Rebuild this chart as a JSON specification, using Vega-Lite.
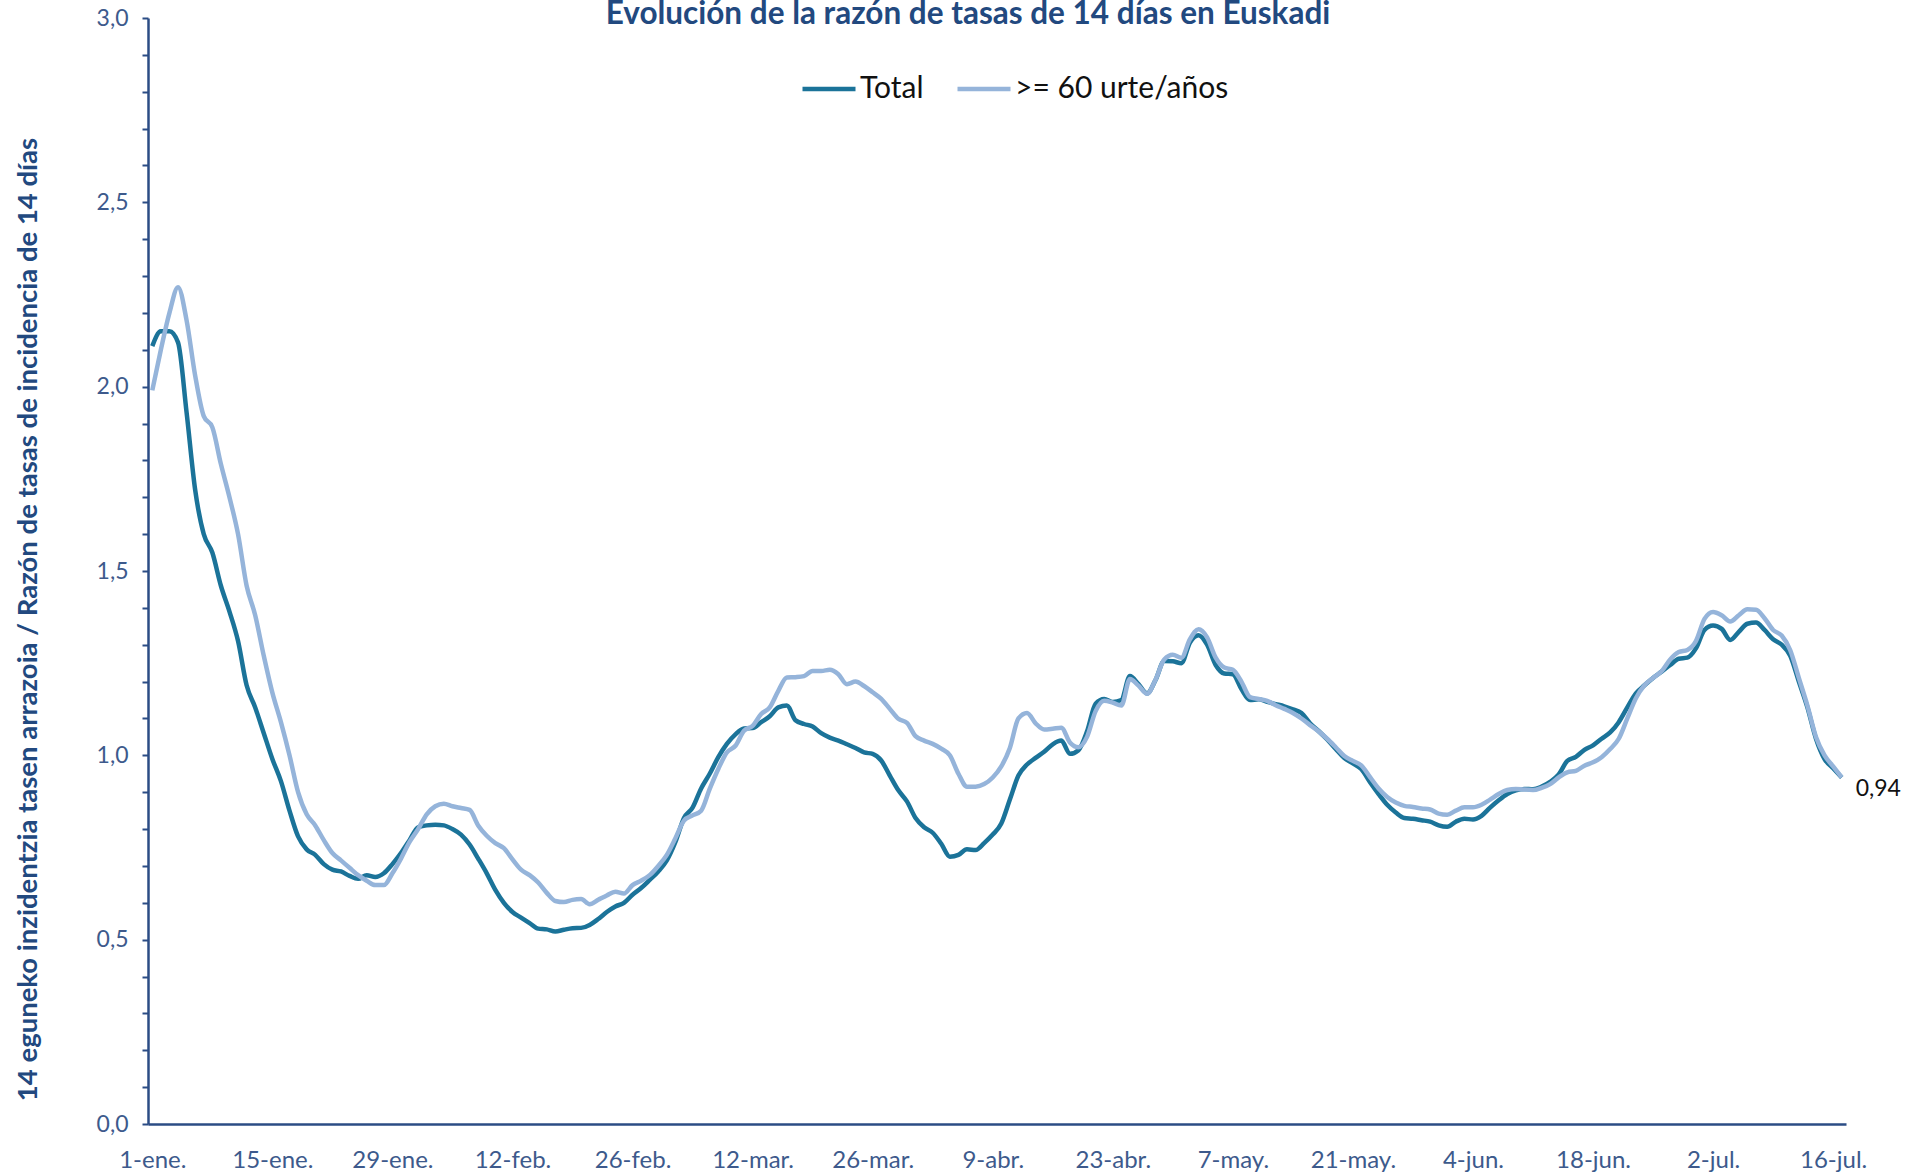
{
  "$schema": "https://vega.github.io/schema/vega-lite/v6.json",
  "width": 1698,
  "height": 1106,
  "autosize": {"type": "none"},
  "padding": {"left": 148, "top": 18, "right": 78, "bottom": 52},
  "background": "white",
  "title": {
    "text": "Evolución de la razón de tasas de 14 días en Euskadi",
    "anchor": "middle",
    "frame": "group",
    "dx": -29,
    "offset": -48,
    "baseline": "alphabetic",
    "font": "Lato",
    "fontSize": 31.5,
    "fontWeight": "bold",
    "color": "#22497F"
  },
  "data": {
    "values": [
      {"fecha": "2021-01-01", "Total": 2.11, ">= 60 urte/años": 1.99},
      {"fecha": "2021-01-02", "Total": 2.15, ">= 60 urte/años": 2.10},
      {"fecha": "2021-01-03", "Total": 2.15, ">= 60 urte/años": 2.20},
      {"fecha": "2021-01-04", "Total": 2.12, ">= 60 urte/años": 2.27},
      {"fecha": "2021-01-05", "Total": 1.93, ">= 60 urte/años": 2.18},
      {"fecha": "2021-01-06", "Total": 1.72, ">= 60 urte/años": 2.03},
      {"fecha": "2021-01-07", "Total": 1.60, ">= 60 urte/años": 1.92},
      {"fecha": "2021-01-08", "Total": 1.55, ">= 60 urte/años": 1.89},
      {"fecha": "2021-01-09", "Total": 1.46, ">= 60 urte/años": 1.79},
      {"fecha": "2021-01-10", "Total": 1.39, ">= 60 urte/años": 1.70},
      {"fecha": "2021-01-11", "Total": 1.31, ">= 60 urte/años": 1.60},
      {"fecha": "2021-01-12", "Total": 1.19, ">= 60 urte/años": 1.46},
      {"fecha": "2021-01-13", "Total": 1.13, ">= 60 urte/años": 1.38},
      {"fecha": "2021-01-14", "Total": 1.06, ">= 60 urte/años": 1.27},
      {"fecha": "2021-01-15", "Total": 0.99, ">= 60 urte/años": 1.17},
      {"fecha": "2021-01-16", "Total": 0.93, ">= 60 urte/años": 1.09},
      {"fecha": "2021-01-17", "Total": 0.85, ">= 60 urte/años": 1.00},
      {"fecha": "2021-01-18", "Total": 0.78, ">= 60 urte/años": 0.90},
      {"fecha": "2021-01-19", "Total": 0.745, ">= 60 urte/años": 0.84},
      {"fecha": "2021-01-20", "Total": 0.73, ">= 60 urte/años": 0.81},
      {"fecha": "2021-01-21", "Total": 0.705, ">= 60 urte/años": 0.77},
      {"fecha": "2021-01-22", "Total": 0.69, ">= 60 urte/años": 0.735},
      {"fecha": "2021-01-23", "Total": 0.685, ">= 60 urte/años": 0.715},
      {"fecha": "2021-01-24", "Total": 0.673, ">= 60 urte/años": 0.695},
      {"fecha": "2021-01-25", "Total": 0.665, ">= 60 urte/años": 0.675},
      {"fecha": "2021-01-26", "Total": 0.675, ">= 60 urte/años": 0.66},
      {"fecha": "2021-01-27", "Total": 0.67, ">= 60 urte/años": 0.648},
      {"fecha": "2021-01-28", "Total": 0.68, ">= 60 urte/años": 0.648},
      {"fecha": "2021-01-29", "Total": 0.705, ">= 60 urte/años": 0.68},
      {"fecha": "2021-01-30", "Total": 0.735, ">= 60 urte/años": 0.72},
      {"fecha": "2021-01-31", "Total": 0.77, ">= 60 urte/años": 0.765},
      {"fecha": "2021-02-01", "Total": 0.805, ">= 60 urte/años": 0.80},
      {"fecha": "2021-02-02", "Total": 0.81, ">= 60 urte/años": 0.84},
      {"fecha": "2021-02-03", "Total": 0.812, ">= 60 urte/años": 0.862},
      {"fecha": "2021-02-04", "Total": 0.81, ">= 60 urte/años": 0.869},
      {"fecha": "2021-02-05", "Total": 0.80, ">= 60 urte/años": 0.862},
      {"fecha": "2021-02-06", "Total": 0.785, ">= 60 urte/años": 0.857},
      {"fecha": "2021-02-07", "Total": 0.758, ">= 60 urte/años": 0.852},
      {"fecha": "2021-02-08", "Total": 0.72, ">= 60 urte/años": 0.81},
      {"fecha": "2021-02-09", "Total": 0.68, ">= 60 urte/años": 0.782},
      {"fecha": "2021-02-10", "Total": 0.635, ">= 60 urte/años": 0.762},
      {"fecha": "2021-02-11", "Total": 0.60, ">= 60 urte/años": 0.748},
      {"fecha": "2021-02-12", "Total": 0.575, ">= 60 urte/años": 0.718},
      {"fecha": "2021-02-13", "Total": 0.56, ">= 60 urte/años": 0.69},
      {"fecha": "2021-02-14", "Total": 0.545, ">= 60 urte/años": 0.675},
      {"fecha": "2021-02-15", "Total": 0.53, ">= 60 urte/años": 0.655},
      {"fecha": "2021-02-16", "Total": 0.528, ">= 60 urte/años": 0.627},
      {"fecha": "2021-02-17", "Total": 0.522, ">= 60 urte/años": 0.605},
      {"fecha": "2021-02-18", "Total": 0.527, ">= 60 urte/años": 0.602},
      {"fecha": "2021-02-19", "Total": 0.531, ">= 60 urte/años": 0.608},
      {"fecha": "2021-02-20", "Total": 0.532, ">= 60 urte/años": 0.61},
      {"fecha": "2021-02-21", "Total": 0.54, ">= 60 urte/años": 0.596},
      {"fecha": "2021-02-22", "Total": 0.556, ">= 60 urte/años": 0.608},
      {"fecha": "2021-02-23", "Total": 0.575, ">= 60 urte/años": 0.62},
      {"fecha": "2021-02-24", "Total": 0.59, ">= 60 urte/años": 0.63},
      {"fecha": "2021-02-25", "Total": 0.60, ">= 60 urte/años": 0.625},
      {"fecha": "2021-02-26", "Total": 0.622, ">= 60 urte/años": 0.648},
      {"fecha": "2021-02-27", "Total": 0.64, ">= 60 urte/años": 0.66},
      {"fecha": "2021-02-28", "Total": 0.662, ">= 60 urte/años": 0.675},
      {"fecha": "2021-03-01", "Total": 0.685, ">= 60 urte/años": 0.70},
      {"fecha": "2021-03-02", "Total": 0.715, ">= 60 urte/años": 0.73},
      {"fecha": "2021-03-03", "Total": 0.765, ">= 60 urte/años": 0.775},
      {"fecha": "2021-03-04", "Total": 0.83, ">= 60 urte/años": 0.823},
      {"fecha": "2021-03-05", "Total": 0.858, ">= 60 urte/años": 0.837},
      {"fecha": "2021-03-06", "Total": 0.91, ">= 60 urte/años": 0.85},
      {"fecha": "2021-03-07", "Total": 0.95, ">= 60 urte/años": 0.909},
      {"fecha": "2021-03-08", "Total": 0.995, ">= 60 urte/años": 0.963},
      {"fecha": "2021-03-09", "Total": 1.031, ">= 60 urte/años": 1.008},
      {"fecha": "2021-03-10", "Total": 1.057, ">= 60 urte/años": 1.026},
      {"fecha": "2021-03-11", "Total": 1.073, ">= 60 urte/años": 1.067},
      {"fecha": "2021-03-12", "Total": 1.074, ">= 60 urte/años": 1.08},
      {"fecha": "2021-03-13", "Total": 1.09, ">= 60 urte/años": 1.112},
      {"fecha": "2021-03-14", "Total": 1.106, ">= 60 urte/años": 1.13},
      {"fecha": "2021-03-15", "Total": 1.13, ">= 60 urte/años": 1.175},
      {"fecha": "2021-03-16", "Total": 1.135, ">= 60 urte/años": 1.211},
      {"fecha": "2021-03-17", "Total": 1.095, ">= 60 urte/años": 1.212},
      {"fecha": "2021-03-18", "Total": 1.085, ">= 60 urte/años": 1.215},
      {"fecha": "2021-03-19", "Total": 1.078, ">= 60 urte/años": 1.229},
      {"fecha": "2021-03-20", "Total": 1.06, ">= 60 urte/años": 1.229},
      {"fecha": "2021-03-21", "Total": 1.048, ">= 60 urte/años": 1.232},
      {"fecha": "2021-03-22", "Total": 1.04, ">= 60 urte/años": 1.22},
      {"fecha": "2021-03-23", "Total": 1.03, ">= 60 urte/años": 1.193},
      {"fecha": "2021-03-24", "Total": 1.02, ">= 60 urte/años": 1.20},
      {"fecha": "2021-03-25", "Total": 1.008, ">= 60 urte/años": 1.188},
      {"fecha": "2021-03-26", "Total": 1.004, ">= 60 urte/años": 1.171},
      {"fecha": "2021-03-27", "Total": 0.986, ">= 60 urte/años": 1.153},
      {"fecha": "2021-03-28", "Total": 0.945, ">= 60 urte/años": 1.126},
      {"fecha": "2021-03-29", "Total": 0.905, ">= 60 urte/años": 1.099},
      {"fecha": "2021-03-30", "Total": 0.875, ">= 60 urte/años": 1.088},
      {"fecha": "2021-03-31", "Total": 0.83, ">= 60 urte/años": 1.052},
      {"fecha": "2021-04-01", "Total": 0.805, ">= 60 urte/años": 1.04},
      {"fecha": "2021-04-02", "Total": 0.79, ">= 60 urte/años": 1.031},
      {"fecha": "2021-04-03", "Total": 0.76, ">= 60 urte/años": 1.018},
      {"fecha": "2021-04-04", "Total": 0.725, ">= 60 urte/años": 1.00},
      {"fecha": "2021-04-05", "Total": 0.73, ">= 60 urte/años": 0.95},
      {"fecha": "2021-04-06", "Total": 0.745, ">= 60 urte/años": 0.915},
      {"fecha": "2021-04-07", "Total": 0.743, ">= 60 urte/años": 0.915},
      {"fecha": "2021-04-08", "Total": 0.762, ">= 60 urte/años": 0.922},
      {"fecha": "2021-04-09", "Total": 0.785, ">= 60 urte/años": 0.94},
      {"fecha": "2021-04-10", "Total": 0.815, ">= 60 urte/años": 0.97},
      {"fecha": "2021-04-11", "Total": 0.88, ">= 60 urte/años": 1.02},
      {"fecha": "2021-04-12", "Total": 0.945, ">= 60 urte/años": 1.10},
      {"fecha": "2021-04-13", "Total": 0.975, ">= 60 urte/años": 1.115},
      {"fecha": "2021-04-14", "Total": 0.993, ">= 60 urte/años": 1.087},
      {"fecha": "2021-04-15", "Total": 1.01, ">= 60 urte/años": 1.07},
      {"fecha": "2021-04-16", "Total": 1.03, ">= 60 urte/años": 1.072},
      {"fecha": "2021-04-17", "Total": 1.04, ">= 60 urte/años": 1.075},
      {"fecha": "2021-04-18", "Total": 1.004, ">= 60 urte/años": 1.035},
      {"fecha": "2021-04-19", "Total": 1.014, ">= 60 urte/años": 1.022},
      {"fecha": "2021-04-20", "Total": 1.065, ">= 60 urte/años": 1.05},
      {"fecha": "2021-04-21", "Total": 1.14, ">= 60 urte/años": 1.12},
      {"fecha": "2021-04-22", "Total": 1.153, ">= 60 urte/años": 1.148},
      {"fecha": "2021-04-23", "Total": 1.145, ">= 60 urte/años": 1.143},
      {"fecha": "2021-04-24", "Total": 1.15, ">= 60 urte/años": 1.135},
      {"fecha": "2021-04-25", "Total": 1.215, ">= 60 urte/años": 1.207},
      {"fecha": "2021-04-26", "Total": 1.193, ">= 60 urte/años": 1.189},
      {"fecha": "2021-04-27", "Total": 1.168, ">= 60 urte/años": 1.167},
      {"fecha": "2021-04-28", "Total": 1.205, ">= 60 urte/años": 1.206},
      {"fecha": "2021-04-29", "Total": 1.256, ">= 60 urte/años": 1.26},
      {"fecha": "2021-04-30", "Total": 1.255, ">= 60 urte/años": 1.273},
      {"fecha": "2021-05-01", "Total": 1.25, ">= 60 urte/años": 1.265},
      {"fecha": "2021-05-02", "Total": 1.306, ">= 60 urte/años": 1.315},
      {"fecha": "2021-05-03", "Total": 1.326, ">= 60 urte/años": 1.342},
      {"fecha": "2021-05-04", "Total": 1.30, ">= 60 urte/años": 1.32},
      {"fecha": "2021-05-05", "Total": 1.245, ">= 60 urte/años": 1.265},
      {"fecha": "2021-05-06", "Total": 1.222, ">= 60 urte/años": 1.238},
      {"fecha": "2021-05-07", "Total": 1.22, ">= 60 urte/años": 1.232},
      {"fecha": "2021-05-08", "Total": 1.18, ">= 60 urte/años": 1.20},
      {"fecha": "2021-05-09", "Total": 1.15, ">= 60 urte/años": 1.158},
      {"fecha": "2021-05-10", "Total": 1.152, ">= 60 urte/años": 1.153},
      {"fecha": "2021-05-11", "Total": 1.145, ">= 60 urte/años": 1.148},
      {"fecha": "2021-05-12", "Total": 1.139, ">= 60 urte/años": 1.136},
      {"fecha": "2021-05-13", "Total": 1.133, ">= 60 urte/años": 1.126},
      {"fecha": "2021-05-14", "Total": 1.125, ">= 60 urte/años": 1.115},
      {"fecha": "2021-05-15", "Total": 1.115, ">= 60 urte/años": 1.10},
      {"fecha": "2021-05-16", "Total": 1.087, ">= 60 urte/años": 1.082},
      {"fecha": "2021-05-17", "Total": 1.066, ">= 60 urte/años": 1.065},
      {"fecha": "2021-05-18", "Total": 1.043, ">= 60 urte/años": 1.045},
      {"fecha": "2021-05-19", "Total": 1.017, ">= 60 urte/años": 1.022},
      {"fecha": "2021-05-20", "Total": 0.993, ">= 60 urte/años": 0.998},
      {"fecha": "2021-05-21", "Total": 0.978, ">= 60 urte/años": 0.985},
      {"fecha": "2021-05-22", "Total": 0.962, ">= 60 urte/años": 0.972},
      {"fecha": "2021-05-23", "Total": 0.927, ">= 60 urte/años": 0.941},
      {"fecha": "2021-05-24", "Total": 0.895, ">= 60 urte/años": 0.91},
      {"fecha": "2021-05-25", "Total": 0.866, ">= 60 urte/años": 0.887},
      {"fecha": "2021-05-26", "Total": 0.845, ">= 60 urte/años": 0.872},
      {"fecha": "2021-05-27", "Total": 0.83, ">= 60 urte/años": 0.863},
      {"fecha": "2021-05-28", "Total": 0.828, ">= 60 urte/años": 0.86},
      {"fecha": "2021-05-29", "Total": 0.824, ">= 60 urte/años": 0.856},
      {"fecha": "2021-05-30", "Total": 0.82, ">= 60 urte/años": 0.853},
      {"fecha": "2021-05-31", "Total": 0.81, ">= 60 urte/años": 0.842},
      {"fecha": "2021-06-01", "Total": 0.806, ">= 60 urte/años": 0.839},
      {"fecha": "2021-06-02", "Total": 0.82, ">= 60 urte/años": 0.85},
      {"fecha": "2021-06-03", "Total": 0.828, ">= 60 urte/años": 0.859},
      {"fecha": "2021-06-04", "Total": 0.826, ">= 60 urte/años": 0.859},
      {"fecha": "2021-06-05", "Total": 0.836, ">= 60 urte/años": 0.866},
      {"fecha": "2021-06-06", "Total": 0.858, ">= 60 urte/años": 0.88},
      {"fecha": "2021-06-07", "Total": 0.878, ">= 60 urte/años": 0.895},
      {"fecha": "2021-06-08", "Total": 0.895, ">= 60 urte/años": 0.906},
      {"fecha": "2021-06-09", "Total": 0.905, ">= 60 urte/años": 0.909},
      {"fecha": "2021-06-10", "Total": 0.909, ">= 60 urte/años": 0.907},
      {"fecha": "2021-06-11", "Total": 0.908, ">= 60 urte/años": 0.906},
      {"fecha": "2021-06-12", "Total": 0.915, ">= 60 urte/años": 0.912},
      {"fecha": "2021-06-13", "Total": 0.928, ">= 60 urte/años": 0.922},
      {"fecha": "2021-06-14", "Total": 0.948, ">= 60 urte/años": 0.94},
      {"fecha": "2021-06-15", "Total": 0.985, ">= 60 urte/años": 0.954},
      {"fecha": "2021-06-16", "Total": 0.996, ">= 60 urte/años": 0.958},
      {"fecha": "2021-06-17", "Total": 1.015, ">= 60 urte/años": 0.972},
      {"fecha": "2021-06-18", "Total": 1.027, ">= 60 urte/años": 0.981},
      {"fecha": "2021-06-19", "Total": 1.045, ">= 60 urte/años": 0.995},
      {"fecha": "2021-06-20", "Total": 1.062, ">= 60 urte/años": 1.017},
      {"fecha": "2021-06-21", "Total": 1.09, ">= 60 urte/años": 1.045},
      {"fecha": "2021-06-22", "Total": 1.13, ">= 60 urte/años": 1.10},
      {"fecha": "2021-06-23", "Total": 1.168, ">= 60 urte/años": 1.155},
      {"fecha": "2021-06-24", "Total": 1.19, ">= 60 urte/años": 1.19},
      {"fecha": "2021-06-25", "Total": 1.21, ">= 60 urte/años": 1.21},
      {"fecha": "2021-06-26", "Total": 1.227, ">= 60 urte/años": 1.228},
      {"fecha": "2021-06-27", "Total": 1.245, ">= 60 urte/años": 1.26},
      {"fecha": "2021-06-28", "Total": 1.262, ">= 60 urte/años": 1.28},
      {"fecha": "2021-06-29", "Total": 1.265, ">= 60 urte/años": 1.286},
      {"fecha": "2021-06-30", "Total": 1.29, ">= 60 urte/años": 1.31},
      {"fecha": "2021-07-01", "Total": 1.34, ">= 60 urte/años": 1.37},
      {"fecha": "2021-07-02", "Total": 1.352, ">= 60 urte/años": 1.389},
      {"fecha": "2021-07-03", "Total": 1.343, ">= 60 urte/años": 1.38},
      {"fecha": "2021-07-04", "Total": 1.313, ">= 60 urte/años": 1.363},
      {"fecha": "2021-07-05", "Total": 1.335, ">= 60 urte/años": 1.38},
      {"fecha": "2021-07-06", "Total": 1.357, ">= 60 urte/años": 1.396},
      {"fecha": "2021-07-07", "Total": 1.36, ">= 60 urte/años": 1.395},
      {"fecha": "2021-07-08", "Total": 1.34, ">= 60 urte/años": 1.372},
      {"fecha": "2021-07-09", "Total": 1.315, ">= 60 urte/años": 1.34},
      {"fecha": "2021-07-10", "Total": 1.30, ">= 60 urte/años": 1.325},
      {"fecha": "2021-07-11", "Total": 1.27, ">= 60 urte/años": 1.285},
      {"fecha": "2021-07-12", "Total": 1.20, ">= 60 urte/años": 1.21},
      {"fecha": "2021-07-13", "Total": 1.13, ">= 60 urte/años": 1.135},
      {"fecha": "2021-07-14", "Total": 1.045, ">= 60 urte/años": 1.05},
      {"fecha": "2021-07-15", "Total": 0.99, ">= 60 urte/años": 1.0},
      {"fecha": "2021-07-16", "Total": 0.965, ">= 60 urte/años": 0.97},
      {"fecha": "2021-07-17", "Total": 0.94, ">= 60 urte/años": 0.94}
    ]
  },
  "transform": [
    {"fold": ["Total", ">= 60 urte/años"], "as": ["serie", "valor"]}
  ],
  "encoding": {
    "x": {
      "field": "fecha",
      "type": "temporal",
      "title": null,
      "scale": {
        "type": "utc",
        "domain": [
          {"year": 2020, "month": 12, "date": 31, "hours": 12, "utc": true},
          {"year": 2021, "month": 7, "date": 17, "hours": 12, "utc": true}
        ]
      },
      "axis": {
        "values": [
          {"year": 2021, "month": 1, "date": 1, "utc": true},
          {"year": 2021, "month": 1, "date": 15, "utc": true},
          {"year": 2021, "month": 1, "date": 29, "utc": true},
          {"year": 2021, "month": 2, "date": 12, "utc": true},
          {"year": 2021, "month": 2, "date": 26, "utc": true},
          {"year": 2021, "month": 3, "date": 12, "utc": true},
          {"year": 2021, "month": 3, "date": 26, "utc": true},
          {"year": 2021, "month": 4, "date": 9, "utc": true},
          {"year": 2021, "month": 4, "date": 23, "utc": true},
          {"year": 2021, "month": 5, "date": 7, "utc": true},
          {"year": 2021, "month": 5, "date": 21, "utc": true},
          {"year": 2021, "month": 6, "date": 4, "utc": true},
          {"year": 2021, "month": 6, "date": 18, "utc": true},
          {"year": 2021, "month": 7, "date": 2, "utc": true},
          {"year": 2021, "month": 7, "date": 16, "utc": true}
        ],
        "labelExpr": "utcdate(datum.value) + '-' + ['ene','feb','mar','abr','may','jun','jul','ago','sep','oct','nov','dic'][utcmonth(datum.value)] + '.'",
        "ticks": false,
        "tickSize": 0,
        "labelPadding": 24,
        "labelFontSize": 24,
        "labelFlush": false,
        "labelOverlap": false,
        "grid": false
      }
    },
    "y": {
      "type": "quantitative",
      "scale": {"domain": [0, 3], "nice": false, "zero": true},
      "axis": {
        "title": "14 eguneko inzidentzia tasen arrazoia / Razón de tasas de  incidencia de 14 días",
        "values": [0, 0.1, 0.2, 0.3, 0.4, 0.5, 0.6, 0.7, 0.8, 0.9, 1.0, 1.1, 1.2, 1.3, 1.4, 1.5, 1.6, 1.7, 1.8, 1.9, 2.0, 2.1, 2.2, 2.3, 2.4, 2.5, 2.6, 2.7, 2.8, 2.9, 3.0],
        "labelExpr": "abs(round(datum.value * 2) - datum.value * 2) < 0.01 ? replace(format(datum.value, '.1f'), '.', ',') : ''",
        "grid": false,
        "tickSize": 6,
        "tickWidth": 2,
        "labelPadding": 14,
        "labelFontSize": 23,
        "titleAngle": 270,
        "titleAlign": "center",
        "titleBaseline": "middle",
        "titleX": -120,
        "titleY": 601,
        "titleFont": "Lato",
        "titleFontSize": 27.5,
        "titleFontWeight": "bold",
        "titleColor": "#22497F"
      }
    }
  },
  "layer": [
    {
      "mark": {"type": "line", "strokeWidth": 4.5, "interpolate": "monotone"},
      "encoding": {
        "y": {"field": "valor", "type": "quantitative"},
        "color": {
          "field": "serie",
          "type": "nominal",
          "scale": {"domain": ["Total", ">= 60 urte/años"], "range": ["#1B7399", "#95B4DA"]},
          "legend": {
            "title": null,
            "orient": "none",
            "legendX": 652,
            "legendY": 42,
            "direction": "horizontal",
            "symbolType": "stroke",
            "symbolSize": 2809,
            "symbolStrokeWidth": 4.5,
            "labelOffset": 2,
            "columnPadding": 24,
            "labelFont": "Lato",
            "labelFontSize": 30,
            "labelLimit": 500,
            "labelColor": "#111111",
            "padding": 0
          }
        }
      }
    },
    {
      "transform": [
        {"filter": "datum.serie === 'Total' && utcmonth(datum.fecha) === 6 && utcdate(datum.fecha) === 17"}
      ],
      "mark": {"type": "text", "align": "left", "baseline": "middle", "dx": 14, "dy": 12, "font": "Lato", "fontSize": 23, "color": "#111111"},
      "encoding": {
        "y": {"field": "valor", "type": "quantitative"},
        "text": {"field": "valor", "type": "quantitative", "format": ".2f"}
      }
    }
  ],
  "config": {
    "locale": {
      "number": {"decimal": ",", "thousands": ".", "grouping": [3], "currency": ["", " €"]}
    },
    "view": {"stroke": null},
    "axis": {
      "labelFont": "Lato",
      "labelFontSize": 22,
      "labelColor": "#3D5A8C",
      "domainColor": "#2B4C85",
      "domainWidth": 2.5,
      "tickColor": "#2B4C85"
    }
  }
}
